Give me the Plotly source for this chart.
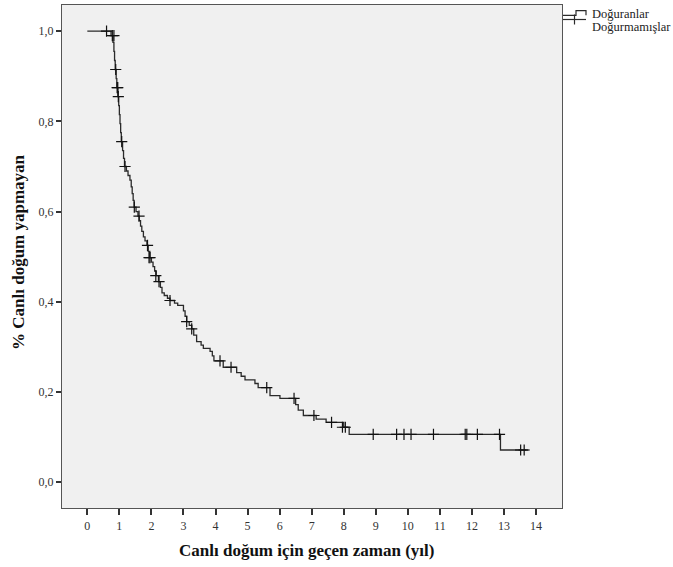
import plotly.graph_objects as go

# Kaplan-Meier step curve (time in years, survival after drop)
step_times = [0.0, 0.74, 0.80, 0.83, 0.85, 0.87, 0.90, 0.92, 0.95, 0.98, 1.00, 1.02, 1.04, 1.06,
              1.10, 1.13, 1.16, 1.22, 1.27, 1.33, 1.37, 1.40, 1.43, 1.46, 1.52, 1.58, 1.62,
              1.66, 1.70, 1.75, 1.80, 1.86, 1.90, 1.95, 2.00, 2.05, 2.10, 2.15, 2.22, 2.28,
              2.33, 2.40, 2.50, 2.58, 2.72, 2.82, 3.00, 3.05, 3.10, 3.18, 3.26, 3.32, 3.41,
              3.55, 3.62, 3.83, 3.90, 3.95, 4.24, 4.66, 4.80, 4.92, 5.23, 5.33, 5.70, 6.01,
              6.50, 6.58, 6.74, 7.14, 7.45, 8.00, 8.17, 12.89, 13.76]
step_surv = [1.000, 0.990, 0.975, 0.955, 0.935, 0.915, 0.895, 0.875, 0.855, 0.835, 0.815, 0.795,
             0.775, 0.755, 0.735, 0.718, 0.700, 0.690, 0.680, 0.670, 0.655, 0.640, 0.625, 0.610,
             0.600, 0.590, 0.580, 0.568, 0.556, 0.544, 0.535, 0.525, 0.512, 0.498, 0.488, 0.478,
             0.468, 0.458, 0.445, 0.432, 0.420, 0.414, 0.408, 0.403, 0.397, 0.392, 0.380, 0.368,
             0.356, 0.348, 0.340, 0.326, 0.312, 0.304, 0.297, 0.290, 0.280, 0.269, 0.255, 0.243,
             0.235, 0.227, 0.219, 0.210, 0.192, 0.186, 0.172, 0.160, 0.148, 0.140, 0.133, 0.122,
             0.1064, 0.0716, 0.0716]

# Censored observations
cens_times = [0.60, 0.78, 0.83, 0.886, 0.93, 0.95, 0.967, 1.073, 1.176, 1.466, 1.613, 1.878,
              1.925, 1.956, 2.137, 2.237, 2.58, 3.10, 3.257, 4.14, 4.484, 5.598, 6.45, 7.07,
              7.62, 7.96, 8.05, 8.92, 9.65, 9.88, 10.1, 10.8, 11.79, 11.84, 12.17, 12.86,
              13.52, 13.63]
cens_surv = [1.000, 0.990, 0.990, 0.915, 0.875, 0.875, 0.855, 0.755, 0.700, 0.610, 0.590,
             0.525, 0.498, 0.498, 0.458, 0.445, 0.403, 0.356, 0.340, 0.269, 0.255, 0.210,
             0.186, 0.148, 0.133, 0.122, 0.122, 0.1064, 0.1064, 0.1064, 0.1064, 0.1064,
             0.1064, 0.1064, 0.1064, 0.1064, 0.0716, 0.0716]

x_ticks = list(range(0, 15))
y_ticks = [0.0, 0.2, 0.4, 0.6, 0.8, 1.0]
y_tick_labels = ["0,0", "0,2", "0,4", "0,6", "0,8", "1,0"]

legend_labels = ["Doğuranlar", "Doğurmamışlar"]
x_title = "Canlı doğum için geçen zaman (yıl)"
y_title = "% Canlı doğum yapmayan"

FONT = "Liberation Serif"
LINE = "#2a2a2a"

fig = go.Figure()
fig.add_trace(go.Scatter(x=step_times, y=step_surv, mode="lines", line_shape="hv",
                         line=dict(color=LINE, width=1.3), name=legend_labels[0],
                         showlegend=False, hoverinfo="skip"))
fig.add_trace(go.Scatter(x=cens_times, y=cens_surv, mode="markers",
                         marker=dict(symbol="cross-thin", size=8,
                                     line=dict(color="#111111", width=1.2)),
                         name=legend_labels[1], showlegend=False))

W, H = 673, 567
L, R, T, B = 62, 562, 5, 508

fig.update_layout(
    width=W, height=H,
    margin=dict(l=L, r=W - R, t=T, b=H - B),
    paper_bgcolor="white", plot_bgcolor="#f0f0f0",
    font=dict(family=FONT, size=12, color="#333333"),
    xaxis=dict(range=[-0.79, 14.81], tickvals=x_ticks, ticks="outside", ticklen=6,
               tickwidth=1.5, tickcolor="#333333", showgrid=False, zeroline=False,
               showline=True, linecolor="#555555", linewidth=1.2, mirror=True,
               tickfont=dict(family=FONT, size=12, color="#333333")),
    yaxis=dict(range=[-0.057, 1.058], tickvals=y_ticks, ticktext=y_tick_labels,
               ticks="outside", ticklen=5, tickwidth=1.5, tickcolor="#333333",
               showgrid=False, zeroline=False, showline=True, linecolor="#555555",
               linewidth=1.2, mirror=True,
               tickfont=dict(family=FONT, size=12, color="#333333")),
    showlegend=False,
)

# axis titles
fig.add_annotation(text="<b>" + x_title + "</b>", xref="paper", yref="paper",
                   x=(306 - L) / (R - L), y=-(550 - B) / (B - T), xanchor="center",
                   yanchor="middle", showarrow=False,
                   font=dict(family=FONT, size=17, color="#111111"))
fig.add_annotation(text="<b>" + y_title + "</b>", xref="paper", yref="paper",
                   x=-(L - 18) / (R - L), y=(B - 252) / (B - T), xanchor="center",
                   yanchor="middle", textangle=-90, showarrow=False,
                   font=dict(family=FONT, size=17, color="#111111"))

# manual legend (pixel helpers)
def px(xp):
    return (xp - L) / (R - L)

def py(yp):
    return (B - yp) / (B - T)

fig.add_shape(type="path", xref="paper", yref="paper",
              path=f"M {px(563)},{py(15.3)} L {px(576)},{py(15.3)} L {px(576)},{py(10.7)} "
                   f"L {px(586)},{py(10.7)} L {px(586)},{py(15.3)}",
              line=dict(color=LINE, width=1.2))
fig.add_shape(type="line", xref="paper", yref="paper", x0=px(563), x1=px(586),
              y0=py(19.5), y1=py(19.5), line=dict(color=LINE, width=1.2))
fig.add_shape(type="line", xref="paper", yref="paper", x0=px(574.5), x1=px(574.5),
              y0=py(14.5), y1=py(24.5), line=dict(color=LINE, width=1.2))
fig.add_annotation(text=legend_labels[0], xref="paper", yref="paper", x=px(590),
                   y=py(14.5), xanchor="left", yanchor="middle", showarrow=False,
                   font=dict(family=FONT, size=12.5, color="#222222"))
fig.add_annotation(text=legend_labels[1], xref="paper", yref="paper", x=px(590),
                   y=py(27), xanchor="left", yanchor="middle", showarrow=False,
                   font=dict(family=FONT, size=12.5, color="#222222"))

fig.write_html("out.html", config={"displayModeBar": False},
               post_script="document.body.style.margin='0';document.body.style.overflow='hidden';")
